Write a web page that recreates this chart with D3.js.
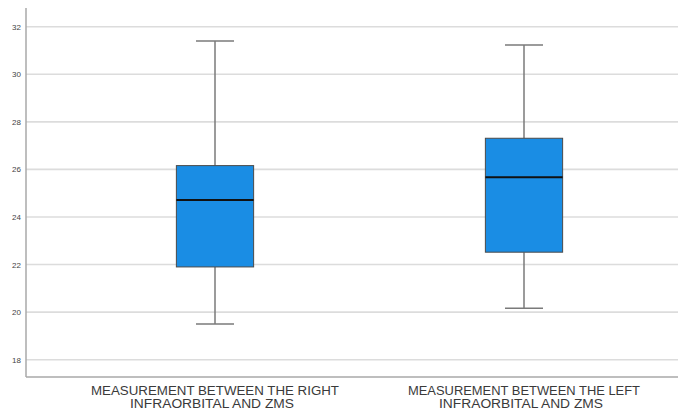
<!DOCTYPE html>
<html>
<head>
<meta charset="utf-8">
<script src="https://cdn.jsdelivr.net/npm/d3@7"></script>
<style>
  html, body { margin: 0; padding: 0; background: #fff; }
  svg { display: block; }
</style>
</head>
<body>
<svg id="chart" width="678" height="409"></svg>
<script>
const categories = [
  ["MEASUREMENT BETWEEN THE RIGHT", "INFRAORBITAL AND ZMS"],
  ["MEASUREMENT BETWEEN THE LEFT", "INFRAORBITAL AND ZMS"]
];
const whiskerLow  = [19.50, 20.16];
const q1          = [21.90, 22.52];
const median      = [24.71, 25.67];
const q3          = [26.16, 27.31];
const whiskerHigh = [31.40, 31.23];
const yTicks = [18, 20, 22, 24, 26, 28, 30, 32];

const svg = d3.select("#chart");
const W = 678, H = 409;
const axisX = 26, axisTop = 8, axisBottom = 377;

const y = d3.scaleLinear().domain([18, 32]).range([359.7, 26.7]);
const x = d3.scaleBand().domain(d3.range(categories.length)).range([60.5, 678.5]).padding(0);
const boxW = x.bandwidth() * 0.25;
const capW = x.bandwidth() * 0.123;

// gridlines
svg.append("g").selectAll("line").data(yTicks).join("line")
  .attr("x1", axisX).attr("x2", W)
  .attr("y1", d => y(d)).attr("y2", d => y(d))
  .attr("stroke", "#dcdcdc").attr("stroke-width", 1.6);

// y axis tick labels
const yAxis = d3.axisLeft(y).tickValues(yTicks).tickSize(0).tickPadding(5).tickFormat(d3.format("d"));
const gy = svg.append("g").attr("transform", `translate(${axisX},0)`).call(yAxis);
gy.select(".domain").remove();
gy.selectAll("text").attr("font-family", "Liberation Sans, Arial, sans-serif")
  .attr("font-size", 8).attr("fill", "#444");

// axis lines
svg.append("line").attr("x1", axisX).attr("x2", axisX).attr("y1", axisTop).attr("y2", axisBottom)
  .attr("stroke", "#a8a8a8").attr("stroke-width", 1.5);
svg.append("line").attr("x1", axisX).attr("x2", W).attr("y1", axisBottom).attr("y2", axisBottom)
  .attr("stroke", "#a8a8a8").attr("stroke-width", 1.5);

// boxes
const g = svg.append("g");
categories.forEach((c, i) => {
  const cx = x(i) + x.bandwidth() / 2;
  g.append("line").attr("x1", cx).attr("x2", cx).attr("y1", y(whiskerHigh[i])).attr("y2", y(q3[i]))
    .attr("stroke", "#7a7a7a").attr("stroke-width", 1.5);
  g.append("line").attr("x1", cx).attr("x2", cx).attr("y1", y(q1[i])).attr("y2", y(whiskerLow[i]))
    .attr("stroke", "#7a7a7a").attr("stroke-width", 1.5);
  [whiskerHigh[i], whiskerLow[i]].forEach(v => {
    g.append("line").attr("x1", cx - capW / 2).attr("x2", cx + capW / 2)
      .attr("y1", y(v)).attr("y2", y(v))
      .attr("stroke", "#7a7a7a").attr("stroke-width", 1.5);
  });
  g.append("rect").attr("x", cx - boxW / 2).attr("width", boxW)
    .attr("y", y(q3[i])).attr("height", y(q1[i]) - y(q3[i]))
    .attr("fill", "#1a8de4").attr("stroke", "#4a4a4a").attr("stroke-width", 1);
  g.append("line").attr("x1", cx - boxW / 2).attr("x2", cx + boxW / 2)
    .attr("y1", y(median[i])).attr("y2", y(median[i]))
    .attr("stroke", "#111").attr("stroke-width", 2);

  // category label
  const t = svg.append("text").attr("text-anchor", "middle")
    .attr("font-family", "Liberation Sans, Arial, sans-serif")
    .attr("font-size", 12).attr("fill", "#3a3a3a");
  t.append("tspan").attr("x", cx).attr("y", 395).text(c[0])
    .attr("textLength", i === 0 ? 248 : 232).attr("lengthAdjust", "spacingAndGlyphs");
  t.append("tspan").attr("x", cx - 3).attr("y", 407.5).text(c[1])
    .attr("textLength", 164).attr("lengthAdjust", "spacingAndGlyphs");
});
</script>
</body>
</html>
